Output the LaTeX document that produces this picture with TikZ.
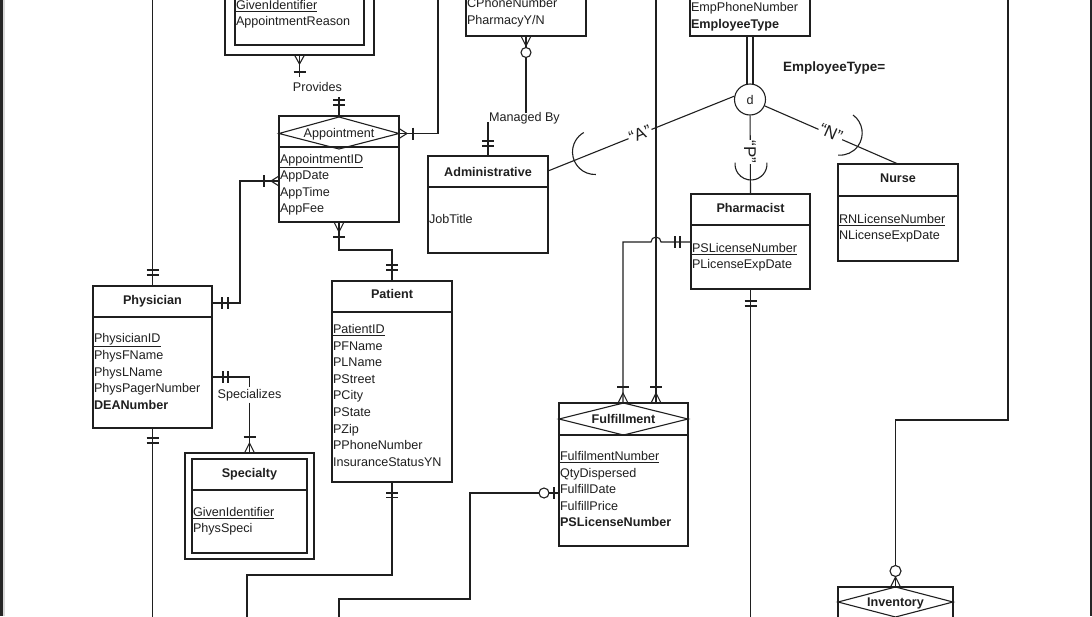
\documentclass[tikz,border=0pt]{standalone}
\usepackage{fontspec}
\setmainfont{Liberation Sans}
\usetikzlibrary{calc}
\newcommand\tkH[2]{\draw ({#1-6},#2) -- ({#1+6},#2);}
\newcommand\tkV[2]{\draw (#1,{#2-6}) -- (#1,{#2+6});}
\newcommand\cfV[3]{\draw ({#1-5},{#2+(#3)}) -- (#1,#2) -- ({#1+5},{#2+(#3)});}
\newcommand\cfH[3]{\draw ({#1+(#3)},{#2-5}) -- (#1,#2) -- ({#1+(#3)},{#2+5});}
\tikzset{
  box/.style={draw, inner sep=0pt, outer sep=0pt, anchor=north west},
  txt/.style={inner sep=0pt, outer sep=0pt, text height=9pt, text depth=0pt, font=\fontsize{12.6}{15}\selectfont},
  attr/.style={txt, anchor=west},
  ttl/.style={txt, font=\fontsize{12.6}{15}\selectfont\bfseries},
  lbl/.style={inner sep=1pt, outer sep=0pt, text height=12pt, text depth=0pt, fill=white, font=\fontsize{17}{18}\selectfont},
}
\newcommand\attrlist[5]{\foreach \aT [count=\ai from 0] in {#5} {\node[attr] (#1\ai) at (#2,{#3+#4*\ai}) {\aT};}}
\begin{document}
\begin{tikzpicture}[x=1pt,y=-1pt,line width=1.1pt,color=black!88]
\useasboundingbox (0,0) rectangle (1092,616);
\fill[white] (0,0) rectangle (1092,616);
\begin{scope}
\clip (0,0) rectangle (1092,616);
% ---------- entities
\node[box, minimum width=149pt, minimum height=75pt] (prov) at (225,-20) {};
\node[box, minimum width=129pt, minimum height=65pt] (provin) at (235,-20) {};
\attrlist{pr}{236}{5}{16}{\underline{GivenIdentifier}, AppointmentReason}

\node[box, minimum width=120pt, minimum height=56pt] (cust) at (466,-20) {};
\attrlist{cu}{467}{3}{16.6}{CPhoneNumber, PharmacyY/N}

\node[box, minimum width=120pt, minimum height=56pt] (emp) at (690,-20) {};
\attrlist{em}{691}{7}{17}{EmpPhoneNumber, \textbf{EmployeeType}}

\node[box, minimum width=120pt, minimum height=106pt] (appt) at (279,116) {};
\draw (279,147) -- (399,147);
\draw (279,133.5) -- (339,117) -- (399,133.5) -- (339,149) -- cycle;
\node[txt] (apptT) at (339,133) {Appointment};
\attrlist{ap}{280}{159}{16.4}{\underline{AppointmentID}, AppDate, AppTime, AppFee}

\node[box, minimum width=120pt, minimum height=97pt] (admin) at (428,156) {};
\draw (428,187) -- (548,187);
\node[ttl] (adminT) at (488,172) {Administrative};
\node[attr] (ad0) at (429,219) {JobTitle};

\node[box, minimum width=119pt, minimum height=95pt] (pharm) at (691,194) {};
\draw (691,225) -- (810,225);
\node[ttl] (pharmT) at (750.5,208) {Pharmacist};
\attrlist{ph}{692}{248}{16.4}{\underline{PSLicenseNumber}, PLicenseExpDate}

\node[box, minimum width=120pt, minimum height=97pt] (nurse) at (838,164) {};
\draw (838,196) -- (958,196);
\node[ttl] (nurseT) at (898,178) {Nurse};
\attrlist{nu}{839}{219}{16.4}{\underline{RNLicenseNumber}, NLicenseExpDate}

\node[box, minimum width=119pt, minimum height=142pt] (phys) at (93,286) {};
\draw (93,317) -- (212,317);
\node[ttl] (physT) at (152.5,300) {Physician};
\attrlist{py}{94}{338}{16.75}{\underline{PhysicianID}, PhysFName, PhysLName, PhysPagerNumber, \textbf{DEANumber}}

\node[box, minimum width=120pt, minimum height=201pt] (pat) at (332,281) {};
\draw (332,312) -- (452,312);
\node[ttl] (patT) at (392,294) {Patient};
\attrlist{pa}{333}{329}{16.6}{\underline{PatientID}, PFName, PLName, PStreet, PCity, PState, PZip, PPhoneNumber, InsuranceStatusYN}

\node[box, minimum width=129pt, minimum height=106pt] (spec) at (185,453) {};
\node[box, minimum width=115pt, minimum height=94pt] (specin) at (192,459) {};
\draw (192,490) -- (307,490);
\node[ttl] (specT) at (249.5,473) {Specialty};
\attrlist{sp}{193}{512}{16.4}{\underline{GivenIdentifier}, PhysSpeci}

\node[box, minimum width=129pt, minimum height=143pt] (fulf) at (559,403) {};
\draw (559,435) -- (688,435);
\draw (559,419) -- (623.5,403) -- (688,419) -- (623.5,435) -- cycle;
\node[ttl] (fulfT) at (623.5,419) {Fulfillment};
\attrlist{fu}{560}{456}{16.5}{\underline{FulfilmentNumber}, QtyDispersed, FulfillDate, FulfillPrice, \textbf{PSLicenseNumber}}

\node[box, minimum width=115pt, minimum height=60pt] (inv) at (838,587) {};
\draw (838,602) -- (895.5,587) -- (953,602) -- (895.5,617) -- cycle;
\node[ttl] (invT) at (895.5,602) {Inventory};

\node[draw, circle, minimum size=31pt, inner sep=0pt, font=\fontsize{12.6}{15}\selectfont] (dc) at (750,99.5) {d};
\node[txt, anchor=west, font=\fontsize{13.5}{15}\selectfont\bfseries] (etype) at (783,67) {EmployeeType=};

% ---------- connectors
\coordinate (physUp) at (152.5,-5);
\coordinate (physDn) at (152.5,625);
\draw (phys.north) -- (physUp);
\tkH{152.5}{270}\tkH{152.5}{275}
\draw (phys.south) -- (physDn);
\tkH{152.5}{438}\tkH{152.5}{443}

\draw ($(phys.north east)+(0,17)$) -- ++(28,0) |- ($(appt.north west)+(0,65)$);
\tkV{222}{303}\tkV{228}{303}
\tkV{264}{181}\cfH{271}{181}{8}

\node[txt] (lspec) at (249.5,394) {Specializes};
\draw ($(phys.north east)+(0,91)$) -| ($(lspec.north)+(0,-3)$);
\draw ($(lspec.south)+(0,4)$) -- (spec.north);
\tkV{223}{377}\tkV{228}{377}
\tkH{249.5}{437}\cfV{249.5}{443}{10}

\draw (appt.south) -- ++(0,28) -| (pat.north);
\cfV{339}{232}{-10}\tkH{339}{237}
\tkH{392}{265}\tkH{392}{270}

\coordinate (patDn) at (247,625);
\draw (pat.south) -- ++(0,93) -| (patDn);
\tkH{392}{493}\tkH{392}{497.5}

\coordinate (fulDn) at (339,625);
\draw ($(fulf.north west)+(0,90)$) -- (470,493) -- (470,599) -| (fulDn);
\draw[fill=white] (544,493) circle[radius=5];
\tkV{554}{493}

\node[txt] (lprov) at (317.5,87) {Provides};
\draw (prov.south) -- ++(0,22);
\draw (appt.north) -- ++(0,-19);
\cfV{299.5}{64}{-9}\tkH{299.5}{72}
\tkH{339}{100}\tkH{339}{105}

\coordinate (apptUp) at (438,-5);
\draw ($(appt.north east)+(0,17.5)$) -| (apptUp);
\cfH{407}{133.5}{-8}\tkV{413}{133.5}

\node[txt, anchor=west] (lman) at (489,117) {Managed By};
\draw (cust.south) -- (cust.south |- lman.north);
\draw (admin.north) -- (admin.north |- lman.south);
\cfV{526}{46}{-10}
\draw[fill=white] (526,52.5) circle[radius=5];
\tkH{488}{141}\tkH{488}{146}

\coordinate (fUp) at (656,-5);
\draw (fUp) -- (fUp |- fulf.north);
\cfV{656}{393}{10}\tkH{656}{387}

\draw ($(pharm.north west)+(0,48)$) -- (661,242) arc[start angle=0, end angle=-180, radius=5] -| ($(fulf.north west)+(64,0)$);
\tkV{675}{242}\tkV{680}{242}
\cfV{623}{393}{10}\tkH{623}{387}

\coordinate (phDn) at (750.5,625);
\draw (pharm.south) -- (phDn);
\tkH{750.5}{301}\tkH{750.5}{306}

\draw ($(emp.south)+(-3,0)$) -- ($(dc.north)+(-3,0.3)$);
\draw ($(emp.south)+(3,0)$) -- ($(dc.north)+(3,0.3)$);

\draw (dc.168) -- ($(admin.north east)+(0,15)$);
\node[lbl, rotate=22] (lA) at (640,134) {“A”};
\draw (595,152) ++(88:22.5) arc[start angle=88, end angle=240, radius=22.5];

\draw (dc) -- (pharm.north);
\node[lbl, rotate=-90] (lP) at (750,152) {“P”};
\draw (751,164) ++(-5:16) arc[start angle=-5, end angle=185, radius=16];

\draw (dc) -- (nurse.north);
\node[lbl, rotate=-24] (lN) at (831,133) {“N”};
\draw (840,133) ++(-54:22.2) arc[start angle=-54, end angle=95, radius=22.2];

\coordinate (invUp) at (1008,-5);
\draw (invUp) -- (1008,420) -| (inv.north);
\draw[fill=white] (895.5,571) circle[radius=5.5];
\cfV{895.5}{577}{10}
\end{scope}
\fill[black!85] (0,0) rectangle (3,616);
\fill[black!15] (3.2,0) rectangle (4.5,616);
\fill[black!85] (1090,0) rectangle (1092,616);
\end{tikzpicture}
\end{document}
